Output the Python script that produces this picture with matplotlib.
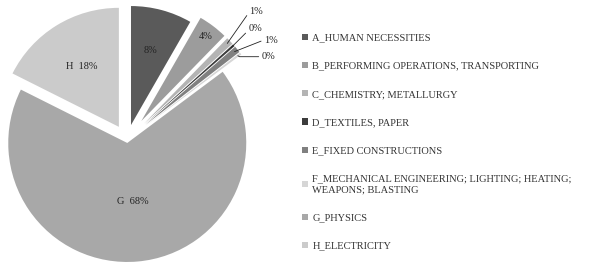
import numpy as np
import matplotlib.pyplot as plt
from matplotlib.patches import Patch

plt.rcParams['font.family'] = ['Liberation Serif', 'DejaVu Serif']

# IPC sections share (%)
sections = ['A_HUMAN NECESSITIES',
            'B_PERFORMING OPERATIONS, TRANSPORTING',
            'C_CHEMISTRY; METALLURGY',
            'D_TEXTILES, PAPER',
            'E_FIXED CONSTRUCTIONS',
            'F_MECHANICAL ENGINEERING; LIGHTING; HEATING;\nWEAPONS; BLASTING',
            'G_PHYSICS',
            'H_ELECTRICITY']
letters = ['', '', '', '', '', '', 'G', 'H']
shares = [8.3, 4.0, 1.0, 0.3, 0.9, 0.3, 67.6, 17.6]

colors = ['#5a5a5a', '#9c9c9c', '#b4b4b4', '#3c3c3c',
          '#808080', '#d6d6d6', '#a8a8a8', '#cbcbcb']
explode = [0.13, 0.2, 0.2, 0.2, 0.2, 0.2, 0.025, 0.13]

fig = plt.figure(figsize=(5.93, 2.66), dpi=100)
ax = fig.add_axes([8/593, 7/266, 238/593, 238/266])

wedges, _ = ax.pie(shares, colors=colors, explode=explode,
                   startangle=90, counterclock=False,
                   wedgeprops=dict(linewidth=0))
for w in wedges:
    w.set_clip_on(False)
ax.set_xlim(-1, 1)
ax.set_ylim(-1, 1)
ax.axis('off')

# labels inside the big slices
inner_dist = {0: 0.65, 1: 0.89, 6: 0.49, 7: 0.6}
for i, d in inner_dist.items():
    w = wedges[i]
    th = np.deg2rad((w.theta1 + w.theta2) / 2)
    cx, cy = w.center
    lab = f'{shares[i]:.0f}%'
    if letters[i]:
        lab = letters[i] + '  ' + lab
    ax.text(cx + d*np.cos(th), cy + d*np.sin(th), lab,
            ha='center', va='center', fontsize=7.5, color='#222222')

# labels with leader lines for the thin slices
outer_pos = {2: (1.03, 1.08), 3: (1.02, 0.94), 4: (1.15, 0.84), 5: (1.13, 0.70)}
outer_conn = {2: 'angle,angleA=0,angleB=55', 3: 'angle,angleA=0,angleB=45',
              4: 'arc3,rad=0', 5: 'angle,angleA=0,angleB=-30'}
for i, pos in outer_pos.items():
    w = wedges[i]
    th = np.deg2rad((w.theta1 + w.theta2) / 2)
    cx, cy = w.center
    tip = (cx + 0.97*np.cos(th), cy + 0.97*np.sin(th))
    ax.annotate(f'{shares[i]:.0f}%', xy=tip, xytext=pos,
                ha='left', va='center', fontsize=7.5, color='#222222',
                annotation_clip=False,
                arrowprops=dict(arrowstyle='-', color='#222222', lw=0.6,
                                shrinkA=0, shrinkB=0, relpos=(0, 0.5),
                                connectionstyle=outer_conn[i]))

handles = [Patch(facecolor=c, edgecolor='none') for c in colors]
fig.legend(handles, sections, loc='upper left',
           bbox_to_anchor=(293/593, 1 - 24/266), frameon=False,
           fontsize=7.5, handlelength=0.55, handleheight=0.55,
           handletextpad=0.4, labelspacing=1.85, labelcolor='#333333')

fig.savefig('out.png', dpi=100)
